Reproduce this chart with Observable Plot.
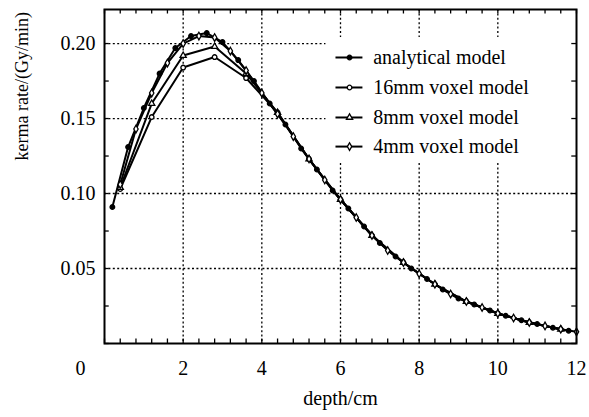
<!DOCTYPE html>
<html><head><meta charset="utf-8">
<script src="https://cdn.jsdelivr.net/npm/d3@7"></script>
<script src="https://cdn.jsdelivr.net/npm/@observablehq/plot@0.6"></script>
<style>html,body{margin:0;padding:0;background:#fff}</style>
</head><body><div id="chart"></div>
<script>
// ---- data ----
const analyticalDepth = [0.2,0.6,1.0,1.4,1.8,2.2,2.6,3.0,3.4,3.8,4.2,4.6,5.0,5.4,5.8,6.2,6.6,7.0,7.4,7.8,8.2,8.6,9.0,9.4,9.8,10.2,10.6,11.0,11.4,11.8];
const analyticalKerma = [0.091,0.131,0.157,0.180,0.197,0.205,0.207,0.201,0.189,0.175,0.160,0.146,0.130,0.116,0.102,0.090,0.078,0.067,0.058,0.050,0.043,0.036,0.030,0.026,0.022,0.0185,0.0155,0.013,0.0105,0.0085];

const voxel16Depth = [0.4,1.2,2.0,2.8,3.6,4.4,5.2,6.0,6.8,7.6,8.4,9.2,10.0,10.8,11.6];
const voxel16Kerma = [0.103,0.151,0.184,0.191,0.177,0.154,0.123,0.096,0.072,0.054,0.0395,0.028,0.020,0.014,0.0095];

const voxel8Depth = [0.4,1.2,2.0,2.8,3.6,4.4,5.2,6.0,6.8,7.6,8.4,9.2,10.0,10.8,11.6];
const voxel8Kerma = [0.104,0.160,0.192,0.198,0.180,0.154,0.123,0.096,0.072,0.054,0.0395,0.028,0.020,0.014,0.0095];

const voxel4Depth = [0.4,0.8,1.2,1.6,2.0,2.4,2.8,3.2,3.6,4.0,4.4,4.8,5.2,5.6,6.0,6.4,6.8,7.2,7.6,8.0,8.4,8.8,9.2,9.6,10.0,10.4,10.8,11.2,11.6,12.0];
const voxel4Kerma = [0.106,0.143,0.167,0.187,0.200,0.205,0.204,0.195,0.182,0.167,0.153,0.138,0.123,0.109,0.096,0.084,0.072,0.062,0.054,0.0465,0.0395,0.033,0.028,0.024,0.020,0.017,0.014,0.0117,0.0095,0.0078];

const seriesNames = ["analytical model","16mm voxel model","8mm voxel model","4mm voxel model"];
const seriesSymbols = ["circle","circle","triangle","diamond"];
const seriesFill = ["black","white","white","white"];

const xTicks = [0,2,4,6,8,10,12];
const yTicks = [0.05,0.10,0.15,0.20];
const xMinor = Array.from({length:31},(_,i)=>i*0.4);
const yMinor = Array.from({length:9},(_,i)=>i*0.025);

// ---- build rows ----
const series = [
  [analyticalDepth, analyticalKerma],
  [voxel16Depth, voxel16Kerma],
  [voxel8Depth, voxel8Kerma],
  [voxel4Depth, voxel4Kerma]
];
const rows = [];
series.forEach(([xs, ys], s) => xs.forEach((x, i) => rows.push({series: seriesNames[s], s, depth: x, kerma: ys[i]})));

const yMax = 0.2227;
const legendBox = {x1: 5.63, x2: 12, y1: 0.1207, y2: 0.204};
const legendRowY = [0.1907, 0.1707, 0.1507, 0.1313];
const legendItems = seriesNames.map((n, i) => ({name: n, i, y: legendRowY[i]}));

const font = "'Liberation Serif','Times New Roman',serif";
const dotted = {stroke: "black", strokeOpacity: 1, strokeWidth: 1.3, strokeDasharray: "2,2.4"};

const chart = Plot.plot({
  width: 589, height: 417,
  marginLeft: 104, marginRight: 13, marginTop: 9, marginBottom: 74,
  x: {domain: [0, 12]},
  y: {domain: [0, yMax]},
  style: {fontFamily: font, fontSize: "20px", color: "black", background: "white", overflow: "visible"},
  marks: [
    Plot.gridX(xTicks.filter(d => d > 0 && d < 12), dotted),
    Plot.gridY(yTicks, dotted),
    Plot.rect([legendBox], {x1: "x1", x2: "x2", y1: "y1", y2: "y2", fill: "white"}),
    // minor ticks (inward)
    Plot.ruleX(xMinor, {y1: 0, y2: 0.003, stroke: "black", strokeWidth: 1.3}),
    Plot.ruleX(xMinor, {y1: yMax - 0.003, y2: yMax, stroke: "black", strokeWidth: 1.3}),
    Plot.ruleY(yMinor, {x1: 0, x2: 0.12, stroke: "black", strokeWidth: 1.3}),
    Plot.ruleY(yMinor, {x1: 11.88, x2: 12, stroke: "black", strokeWidth: 1.3}),
    // curves
    Plot.line(rows, {x: "depth", y: "kerma", z: "series", stroke: "black", strokeWidth: 2}),
    Plot.dot(rows, {x: "depth", y: "kerma", r: 2.3, symbol: d => seriesSymbols[d.s], fill: d => seriesFill[d.s], stroke: "black", strokeWidth: 1.3}),
    // legend
    Plot.ruleY(legendItems, {y: "y", x1: 5.885, x2: 6.57, stroke: "black", strokeWidth: 2}),
    Plot.dot(legendItems, {x: 6.23, y: "y", r: 2.3, symbol: d => seriesSymbols[d.i], fill: d => seriesFill[d.i], stroke: "black", strokeWidth: 1.3}),
    Plot.text(legendItems, {x: 6.83, y: "y", text: "name", textAnchor: "start", fontSize: 20}),
    Plot.frame({stroke: "black", strokeWidth: 2}),
    // axes
    Plot.axisX(xTicks.filter(d => d > 0), {tickSize: 0, tickPadding: 17, label: null, fontSize: 20}),
    Plot.axisX([0], {tickSize: 0, tickPadding: 17, label: null, dx: -24, fontSize: 20}),
    Plot.axisY(yTicks, {tickSize: 0, tickPadding: 9, label: null, tickFormat: d3.format(".2f"), fontSize: 20}),
    Plot.text(["depth/cm"], {frameAnchor: "bottom", dy: 61, fontSize: 20}),
    Plot.text(["kerma rate/(Gy/min)"], {frameAnchor: "left", rotate: -90, dx: -82, dy: -16, fontSize: 18})
  ]
});
document.getElementById("chart").appendChild(chart);
</script>
</body></html>
